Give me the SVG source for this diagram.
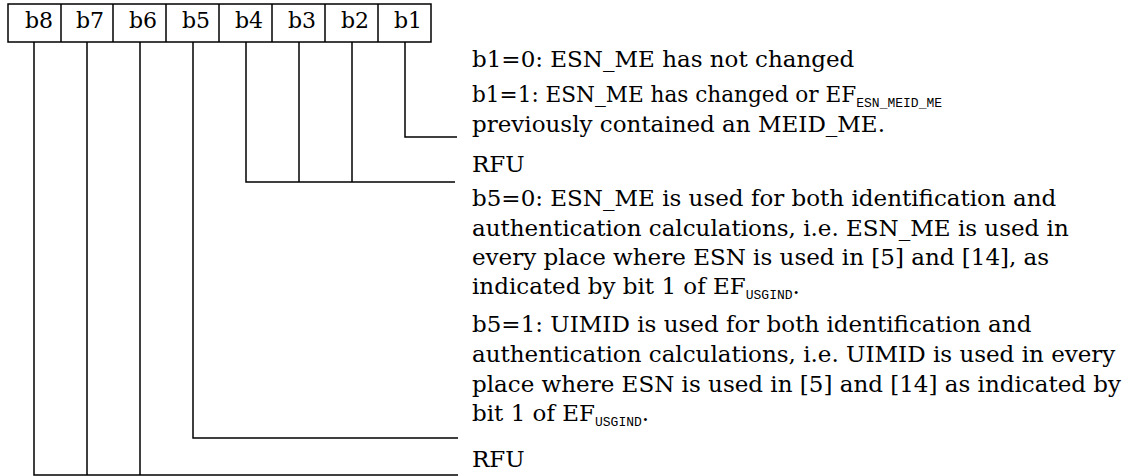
<svg xmlns="http://www.w3.org/2000/svg" width="1125" height="476" viewBox="0 0 1125 476">
<style>
.ln{fill:none;stroke:#000;stroke-width:1.5}
.t{font-family:"DejaVu Serif","Liberation Serif",serif;font-size:23px;fill:#000}
.c{font-family:"DejaVu Serif","Liberation Serif",serif;font-size:22px;fill:#000;text-anchor:end}
.m{font-family:"Liberation Mono","DejaVu Sans Mono",monospace;font-size:13px;fill:#000}
</style>
<rect width="1125" height="476" fill="#fff"/>
<g id="register">
<rect class="ln" x="8" y="4" width="423" height="38"/>
<path class="ln" d="M61,4V42M113,4V42M166,4V42M219,4V42M272,4V42M325,4V42M378,4V42"/>
<text class="c" x="53" y="28">b8</text>
<text class="c" x="104" y="28">b7</text>
<text class="c" x="157" y="28">b6</text>
<text class="c" x="210" y="28">b5</text>
<text class="c" x="263" y="28">b4</text>
<text class="c" x="316" y="28">b3</text>
<text class="c" x="369" y="28">b2</text>
<text class="c" x="422" y="28">b1</text>
</g>
<g id="connectors">
<path class="ln" d="M405,42V137H457"/>
<path class="ln" d="M246,42V182H455M299,42V182M352,42V182"/>
<path class="ln" d="M193,42V438H458"/>
<path class="ln" d="M34,42V475H458M87,42V475M140,42V475"/>
</g>
<g id="b1-desc">
<text class="t" x="472" y="67">b1=0: ESN_ME has not changed</text>
<text class="t" x="472" y="102" style="font-size:21.6px">b1=1: ESN_ME has changed or EF<tspan class="m" dy="5">ESN_MEID_ME</tspan></text>
<text class="t" x="472" y="132">previously contained an MEID_ME.</text>
</g>
<g id="b2-b4-desc">
<text class="t" x="472" y="172">RFU</text>
</g>
<g id="b5-desc">
<text class="t" x="472" y="206">b5=0: ESN_ME is used for both identification and</text>
<text class="t" x="472" y="236">authentication calculations, i.e. ESN_ME is used in</text>
<text class="t" x="472" y="265">every place where ESN is used in [5] and [14], as</text>
<text class="t" x="472" y="294">indicated by bit 1 of EF<tspan class="m" dy="5">USGIND</tspan><tspan dy="-5">.</tspan></text>
<text class="t" x="472" y="332">b5=1: UIMID is used for both identification and</text>
<text class="t" x="472" y="362">authentication calculations, i.e. UIMID is used in every</text>
<text class="t" x="472" y="392">place where ESN is used in [5] and [14] as indicated by</text>
<text class="t" x="472" y="421">bit 1 of EF<tspan class="m" dy="5">USGIND</tspan><tspan dy="-5">.</tspan></text>
</g>
<g id="b6-b8-desc">
<text class="t" x="472" y="467">RFU</text>
</g>
</svg>
